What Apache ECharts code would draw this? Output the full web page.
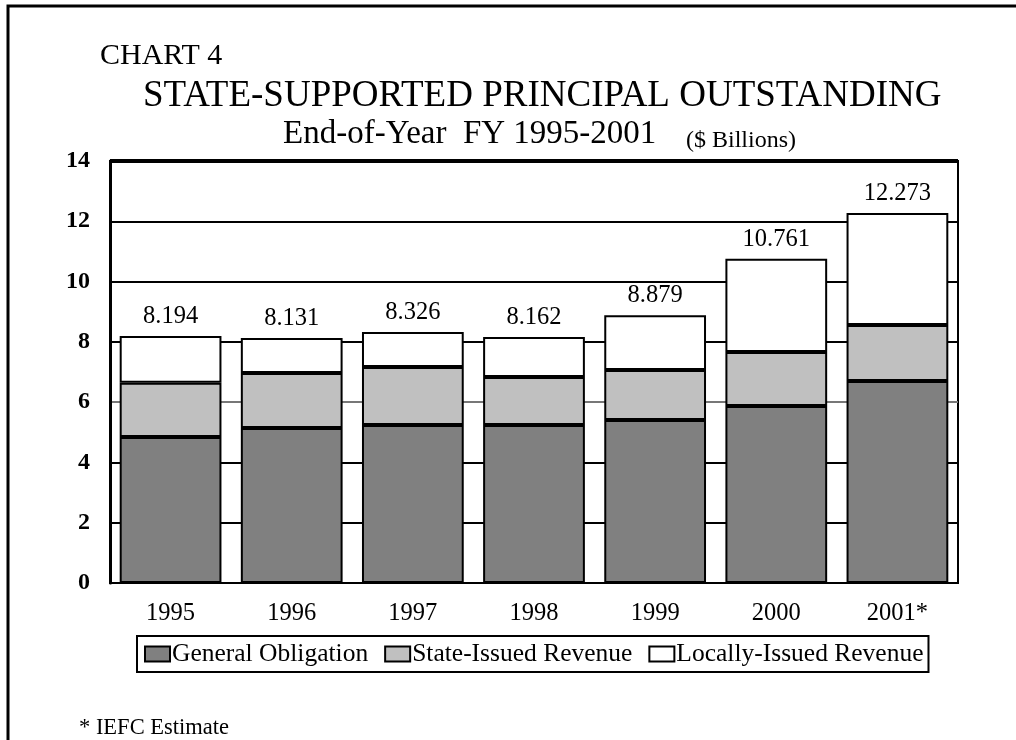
<!DOCTYPE html>
<html>
<head>
<meta charset="utf-8">
<title>State-Supported Principal Outstanding</title>
<script src="https://cdn.jsdelivr.net/npm/echarts@6/dist/echarts.min.js"></script>
<style>
  html, body { margin: 0; padding: 0; background: #fff; }
  #chart { width: 1016px; height: 740px; }
</style>
</head>
<body>
<div id="chart"></div>
<script>
// Fiscal years on the x axis
const years = ['1995', '1996', '1997', '1998', '1999', '2000', '2001*'];
// End-of-year totals, $ billions (printed above each bar)
const totals = [8.194, 8.131, 8.326, 8.162, 8.879, 10.761, 12.273];
// General obligation debt, $ billions
const generalObligation = [4.84, 5.14, 5.24, 5.24, 5.41, 5.87, 6.70];
// State-issued revenue bonds, $ billions
const stateIssued = [1.80, 1.83, 1.93, 1.59, 1.66, 1.79, 1.86];
// Locally-issued revenue bonds: the remainder of each year's total
const locallyIssued = totals.map((t, i) =>
  Math.round((t - generalObligation[i] - stateIssued[i]) * 1000) / 1000);
// Value-axis ticks
const yTicks = [0, 2, 4, 6, 8, 10, 12, 14];

const SERIF = '"Liberation Serif", "Times New Roman", serif';

const chart = echarts.init(document.getElementById('chart'), null, { renderer: 'canvas' });

const barStyle = (fill) => ({ color: fill, borderColor: '#000', borderWidth: 2 });
const plain = (size) => ({ fontFamily: SERIF, fontSize: size, fontWeight: 'normal', color: '#000' });

chart.setOption({
  backgroundColor: '#fff',
  animation: false,
  textStyle: { fontFamily: SERIF, color: '#000' },
  title: [
    { text: 'CHART 4', left: 95, top: 36, textStyle: plain(30) },
    { text: 'STATE-SUPPORTED PRINCIPAL OUTSTANDING', left: 138, top: 73, textStyle: plain(37) },
    { text: 'End-of-Year  FY 1995-2001', left: 278, top: 113, textStyle: plain(33) },
    { text: '($ Billions)', left: 681, top: 124, textStyle: plain(24) },
    { text: '* IEFC Estimate', left: 74, top: 712, textStyle: plain(22.5) }
  ],
  graphic: [
    // page frame
    { type: 'rect', silent: true, z: 100,
      shape: { x: 8, y: 6, width: 1200, height: 900 },
      style: { fill: null, stroke: '#000', lineWidth: 3 } }
  ],
  legend: {
    left: 137, top: 636,
    orient: 'horizontal',
    padding: [5, 5, 5, 7],
    borderColor: '#000', borderWidth: 2,
    itemWidth: 25, itemHeight: 15, itemGap: 16,
    icon: 'rect',
    textStyle: { fontFamily: SERIF, fontSize: 25.5, color: '#000', padding: [0, 0, 0, -3] },
    data: ['General Obligation', 'State-Issued Revenue', 'Locally-Issued Revenue']
  },
  grid: {
    left: 110, right: 58, top: 161, bottom: 157,
    show: true, borderColor: '#000', borderWidth: 2,
    containLabel: false
  },
  xAxis: {
    type: 'category',
    data: years,
    axisLine: { lineStyle: { color: '#000', width: 2 } },
    axisTick: { show: false },
    axisLabel: { color: '#000', fontFamily: SERIF, fontSize: 24.5, margin: 18 }
  },
  yAxis: {
    type: 'value',
    min: yTicks[0], max: yTicks[yTicks.length - 1], interval: 2,
    axisLine: { show: true, lineStyle: { color: '#000', width: 3 } },
    axisTick: { show: false },
    axisLabel: { color: '#000', fontFamily: SERIF, fontSize: 24, fontWeight: 'bold', margin: 20 },
    splitLine: {
      show: true,
      lineStyle: { color: ['#000', '#000', '#000', '#777', '#000', '#000', '#000', '#000'], width: 2 }
    }
  },
  series: [
    { name: 'General Obligation', type: 'bar', stack: 'debt', barWidth: '84%',
      data: generalObligation, itemStyle: barStyle('#808080'),
      // heavier rule along the top of the plot
      markLine: {
        silent: true, symbol: 'none', label: { show: false },
        lineStyle: { color: '#000', width: 4, type: 'solid' },
        data: [{ yAxis: yTicks[yTicks.length - 1] }]
      } },
    { name: 'State-Issued Revenue', type: 'bar', stack: 'debt', barWidth: '84%',
      data: stateIssued, itemStyle: barStyle('#c0c0c0') },
    { name: 'Locally-Issued Revenue', type: 'bar', stack: 'debt', barWidth: '84%',
      data: locallyIssued, itemStyle: barStyle('#ffffff'),
      label: {
        show: true, position: 'top', distance: 7,
        fontFamily: SERIF, fontSize: 24.5, color: '#000',
        formatter: (p) => totals[p.dataIndex].toFixed(3)
      } }
  ]
});
</script>
</body>
</html>
